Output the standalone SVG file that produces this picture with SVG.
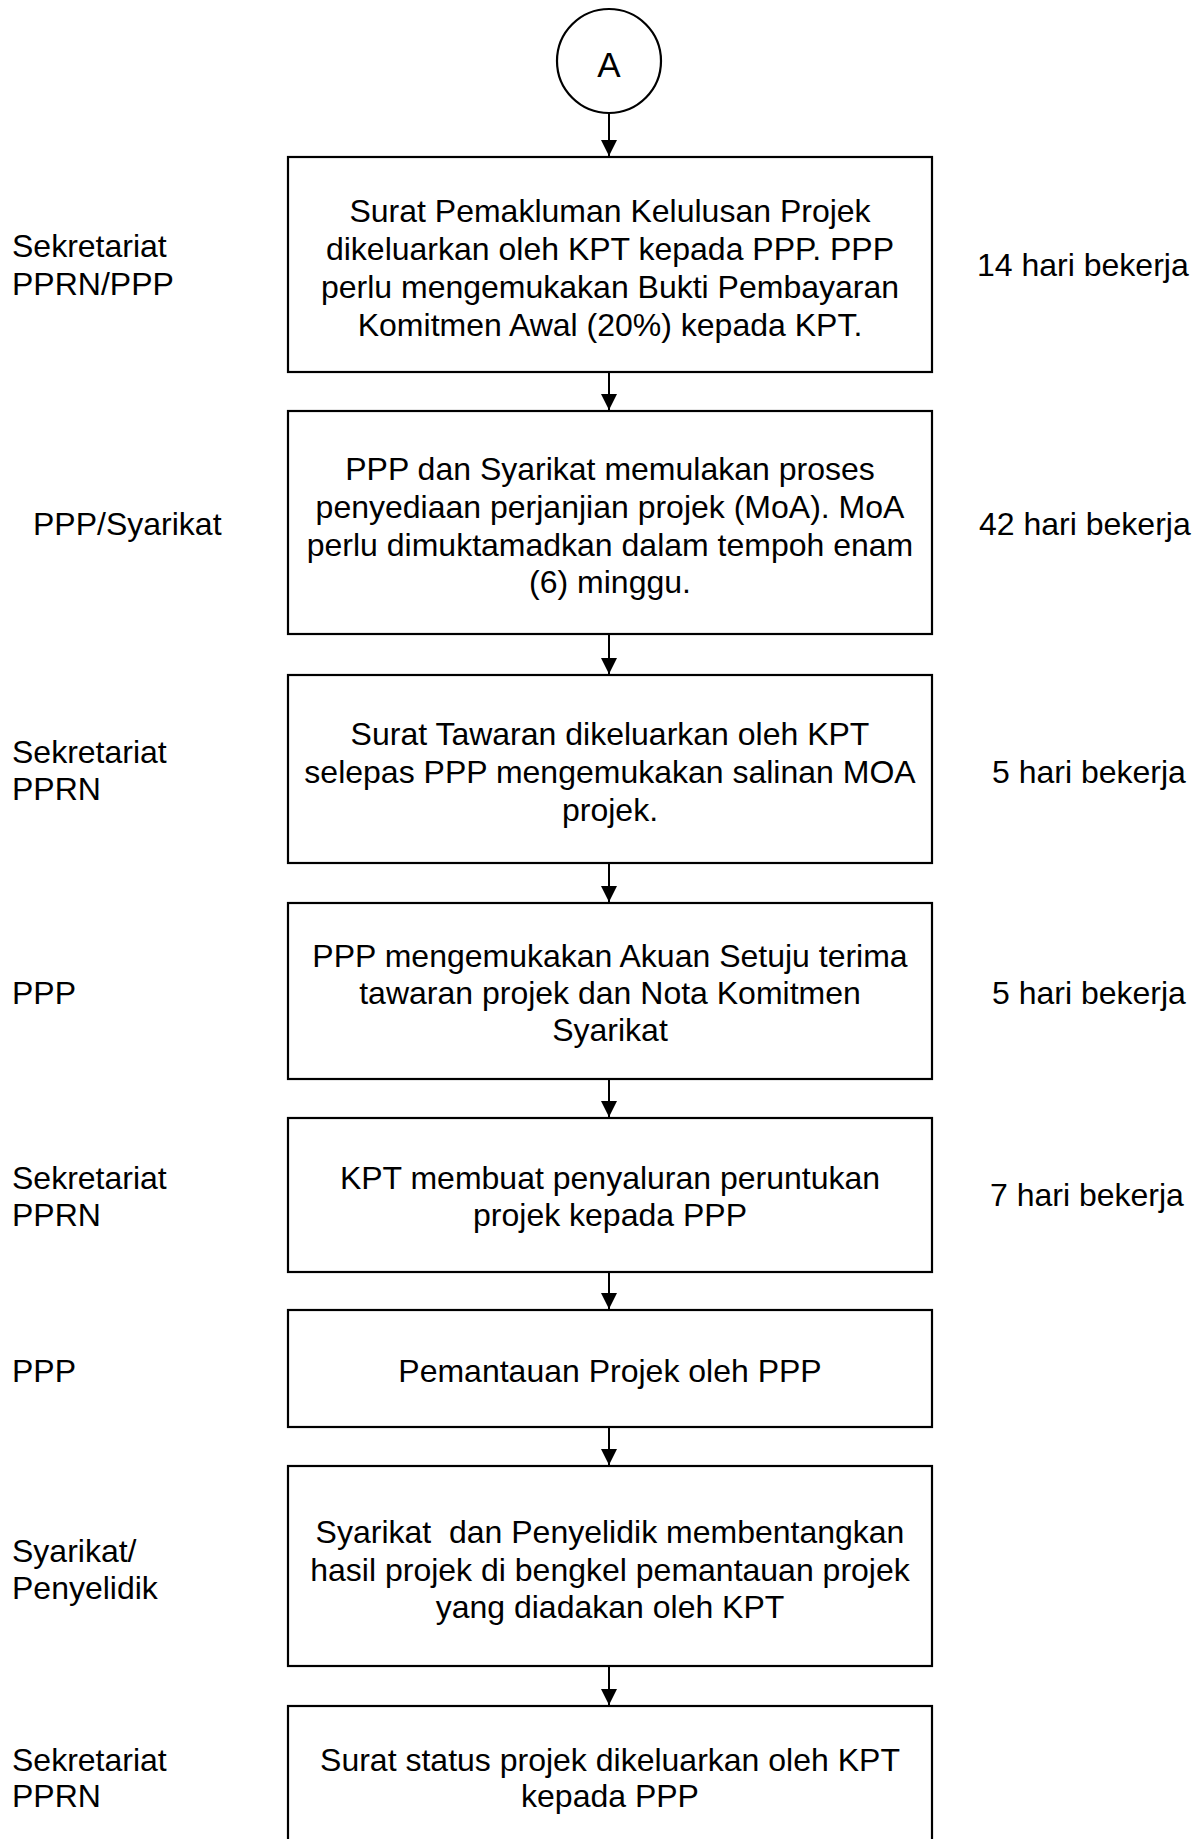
<svg xmlns="http://www.w3.org/2000/svg" width="1203" height="1839" viewBox="0 0 1203 1839">
<style>
  .box { fill: #ffffff; stroke: #000000; stroke-width: 2.2; }
  .t { font-family: "Liberation Sans", Arial, sans-serif; font-size: 32px; fill: #000000; }
  .c { text-anchor: middle; }
  .conn { stroke: #000000; stroke-width: 2; fill: none; marker-end: url(#arr); }
</style>
<defs>
  <marker id="arr" markerUnits="userSpaceOnUse" markerWidth="16" markerHeight="16" refX="16" refY="8" orient="auto">
    <path d="M0,0 L16,8 L0,16 z" fill="#000000"/>
  </marker>
</defs>
<rect width="1203" height="1839" fill="#ffffff"/>

<g id="connectors">
  <line class="conn" x1="609" y1="113" x2="609" y2="156"/>
  <line class="conn" x1="609" y1="372" x2="609" y2="410"/>
  <line class="conn" x1="609" y1="634" x2="609" y2="674"/>
  <line class="conn" x1="609" y1="863" x2="609" y2="902"/>
  <line class="conn" x1="609" y1="1079" x2="609" y2="1117"/>
  <line class="conn" x1="609" y1="1272" x2="609" y2="1309"/>
  <line class="conn" x1="609" y1="1427" x2="609" y2="1465"/>
  <line class="conn" x1="609" y1="1666" x2="609" y2="1705"/>
</g>

<g id="start">
  <circle cx="609" cy="61" r="52" fill="#ffffff" stroke="#000000" stroke-width="2.2"/>
  <text class="t c" x="609" y="77" style="font-size:35px">A</text>
</g>

<g id="node1">
  <rect class="box" x="288" y="157" width="644" height="215"/>
  <text class="t c" x="610" y="222">Surat Pemakluman Kelulusan Projek</text>
  <text class="t c" x="610" y="260">dikeluarkan oleh KPT kepada PPP. PPP</text>
  <text class="t c" x="610" y="298">perlu mengemukakan Bukti Pembayaran</text>
  <text class="t c" x="610" y="336">Komitmen Awal (20%) kepada KPT.</text>
</g>
<g id="label1">
  <text class="t" x="12" y="257">Sekretariat</text>
  <text class="t" x="12" y="295">PPRN/PPP</text>
  <text class="t" x="977" y="276">14 hari bekerja</text>
</g>

<g id="node2">
  <rect class="box" x="288" y="411" width="644" height="223"/>
  <text class="t c" x="610" y="480">PPP dan Syarikat memulakan proses</text>
  <text class="t c" x="610" y="518">penyediaan perjanjian projek (MoA). MoA</text>
  <text class="t c" x="610" y="556">perlu dimuktamadkan dalam tempoh enam</text>
  <text class="t c" x="610" y="593">(6) minggu.</text>
</g>
<g id="label2">
  <text class="t" x="33" y="535">PPP/Syarikat</text>
  <text class="t" x="979" y="535">42 hari bekerja</text>
</g>

<g id="node3">
  <rect class="box" x="288" y="675" width="644" height="188"/>
  <text class="t c" x="610" y="745">Surat Tawaran dikeluarkan oleh KPT</text>
  <text class="t c" x="610" y="783">selepas PPP mengemukakan salinan MOA</text>
  <text class="t c" x="610" y="821">projek.</text>
</g>
<g id="label3">
  <text class="t" x="12" y="763">Sekretariat</text>
  <text class="t" x="12" y="800">PPRN</text>
  <text class="t" x="992" y="783">5 hari bekerja</text>
</g>

<g id="node4">
  <rect class="box" x="288" y="903" width="644" height="176"/>
  <text class="t c" x="610" y="967">PPP mengemukakan Akuan Setuju terima</text>
  <text class="t c" x="610" y="1004">tawaran projek dan Nota Komitmen</text>
  <text class="t c" x="610" y="1041">Syarikat</text>
</g>
<g id="label4">
  <text class="t" x="12" y="1004">PPP</text>
  <text class="t" x="992" y="1004">5 hari bekerja</text>
</g>

<g id="node5">
  <rect class="box" x="288" y="1118" width="644" height="154"/>
  <text class="t c" x="610" y="1189">KPT membuat penyaluran peruntukan</text>
  <text class="t c" x="610" y="1226">projek kepada PPP</text>
</g>
<g id="label5">
  <text class="t" x="12" y="1189">Sekretariat</text>
  <text class="t" x="12" y="1226">PPRN</text>
  <text class="t" x="990" y="1206">7 hari bekerja</text>
</g>

<g id="node6">
  <rect class="box" x="288" y="1310" width="644" height="117"/>
  <text class="t c" x="610" y="1382">Pemantauan Projek oleh PPP</text>
</g>
<g id="label6">
  <text class="t" x="12" y="1382">PPP</text>
</g>

<g id="node7">
  <rect class="box" x="288" y="1466" width="644" height="200"/>
  <text class="t c" x="610" y="1543">Syarikat&#160; dan Penyelidik membentangkan</text>
  <text class="t c" x="610" y="1581">hasil projek di bengkel pemantauan projek</text>
  <text class="t c" x="610" y="1618">yang diadakan oleh KPT</text>
</g>
<g id="label7">
  <text class="t" x="12" y="1562">Syarikat/</text>
  <text class="t" x="12" y="1599">Penyelidik</text>
</g>

<g id="node8">
  <rect class="box" x="288" y="1706" width="644" height="160"/>
  <text class="t c" x="610" y="1771">Surat status projek dikeluarkan oleh KPT</text>
  <text class="t c" x="610" y="1807">kepada PPP</text>
</g>
<g id="label8">
  <text class="t" x="12" y="1771">Sekretariat</text>
  <text class="t" x="12" y="1807">PPRN</text>
</g>
</svg>
